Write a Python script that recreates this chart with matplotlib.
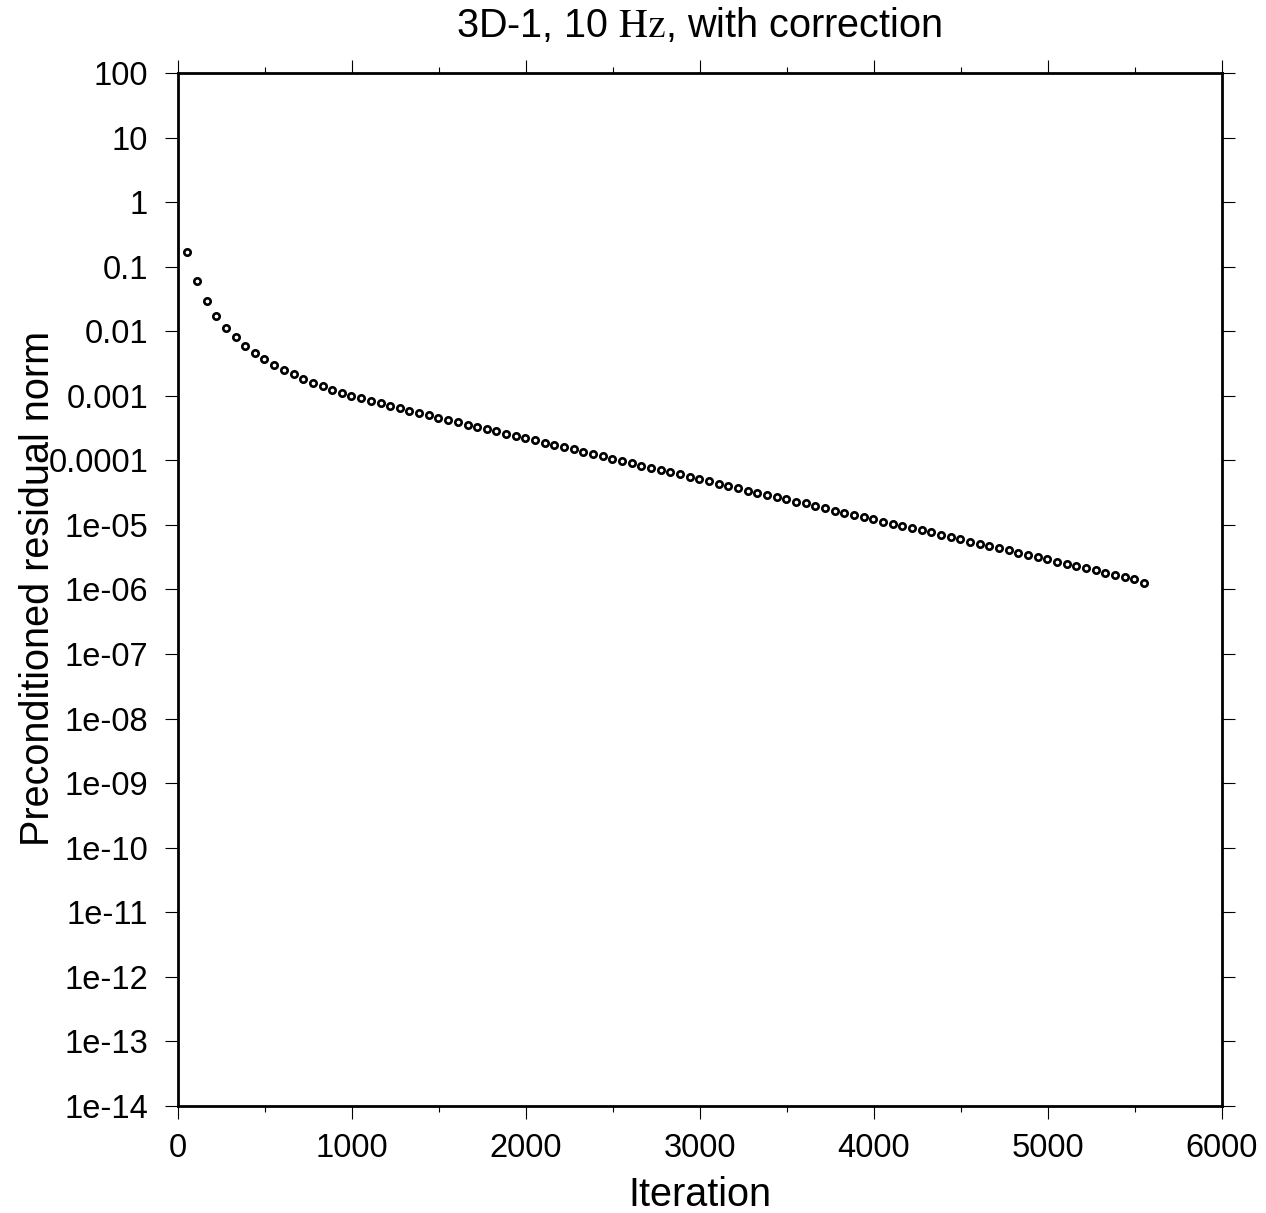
import numpy as np
import matplotlib
matplotlib.use("Agg")
import matplotlib.pyplot as plt
from matplotlib.ticker import FixedLocator, FixedFormatter, MultipleLocator

plt.rcParams['font.family'] = ['Liberation Sans', 'DejaVu Sans']
plt.rcParams['mathtext.fontset'] = 'stix'

# iteration number of each logged residual
iterations = [53, 109, 164, 220, 275, 331, 386, 442, 497, 553,
              609, 664, 720, 775, 831, 886, 942, 997, 1053, 1108,
              1164, 1219, 1275, 1330, 1386, 1441, 1497, 1553, 1608, 1664,
              1719, 1775, 1830, 1886, 1941, 1997, 2052, 2108, 2163, 2219,
              2274, 2330, 2386, 2441, 2497, 2552, 2608, 2663, 2719, 2774,
              2830, 2885, 2941, 2996, 3052, 3107, 3163, 3219, 3274, 3330,
              3385, 3441, 3496, 3552, 3607, 3663, 3718, 3774, 3829, 3885,
              3940, 3996, 4052, 4107, 4163, 4218, 4274, 4329, 4385, 4440,
              4496, 4551, 4607, 4662, 4718, 4773, 4829, 4885, 4940, 4996,
              5051, 5107, 5162, 5218, 5273, 5329, 5384, 5440, 5495, 5551]

# log10 of the preconditioned residual norm
residual_log10 = [-0.773, -1.227, -1.537, -1.764, -1.945, -2.089, -2.223, -2.337, -2.430, -2.523,
                  -2.597, -2.667, -2.733, -2.795, -2.851, -2.903, -2.951, -2.996, -3.039, -3.076,
                  -3.116, -3.155, -3.192, -3.228, -3.262, -3.303, -3.344, -3.375, -3.406, -3.447,
                  -3.483, -3.519, -3.550, -3.592, -3.623, -3.654, -3.685, -3.726, -3.762, -3.798,
                  -3.829, -3.865, -3.901, -3.937, -3.974, -4.010, -4.046, -4.082, -4.113, -4.144,
                  -4.180, -4.211, -4.253, -4.284, -4.322, -4.366, -4.397, -4.433, -4.470, -4.501,
                  -4.532, -4.572, -4.603, -4.640, -4.665, -4.707, -4.743, -4.780, -4.811, -4.846,
                  -4.882, -4.913, -4.950, -4.986, -5.017, -5.053, -5.079, -5.115, -5.156, -5.187,
                  -5.223, -5.260, -5.291, -5.327, -5.362, -5.393, -5.430, -5.466, -5.497, -5.533,
                  -5.570, -5.605, -5.632, -5.672, -5.703, -5.740, -5.776, -5.812, -5.842, -5.904]

y_ticks = [1e2, 1e1, 1e0, 1e-1, 1e-2, 1e-3, 1e-4, 1e-5, 1e-6, 1e-7,
           1e-8, 1e-9, 1e-10, 1e-11, 1e-12, 1e-13, 1e-14]
y_tick_labels = ['100', '10', '1', '0.1', '0.01', '0.001', '0.0001', '1e-05', '1e-06', '1e-07',
                 '1e-08', '1e-09', '1e-10', '1e-11', '1e-12', '1e-13', '1e-14']
x_ticks = [0, 1000, 2000, 3000, 4000, 5000, 6000]

W, H = 1266, 1213
fig = plt.figure(figsize=(W / 100, H / 100), dpi=100)
ax = fig.add_axes([178 / W, 1 - 1106 / H, (1222 - 178) / W, (1106 - 73) / H])

residual = 10 ** np.array(residual_log10)
ax.plot(iterations, residual, linestyle='none', marker='o', markersize=4.6,
        markerfacecolor='white', markeredgecolor='black', markeredgewidth=1.9,
        clip_on=False)

ax.set_yscale('log')
ax.set_xlim(0, 6000)
ax.set_ylim(1e-14, 1e2)
ax.yaxis.set_major_locator(FixedLocator(y_ticks))
ax.yaxis.set_major_formatter(FixedFormatter(y_tick_labels))
ax.yaxis.set_minor_locator(FixedLocator([]))
ax.xaxis.set_major_locator(FixedLocator(x_ticks))
ax.xaxis.set_minor_locator(MultipleLocator(500))

for s in ax.spines.values():
    s.set_linewidth(2.0)

ax.tick_params(which='major', direction='out', length=9.5, width=0.8,
               labelsize=23.5, pad=10, top=True, right=True)
ax.tick_params(which='minor', direction='out', length=4.5, width=0.8,
               top=True, right=False, left=False)
ax.tick_params(axis='y', pad=12)

fig.text(699 / W, 1 - 37 / H, r'3D-1, 10 $\mathrm{Hz}$, with correction',
         ha='center', va='baseline', fontsize=28.5)
fig.text(700 / W, 1 - 1206 / H, 'Iteration', ha='center', va='baseline', fontsize=28.5)
fig.text(38 / W, 1 - 588 / H, 'Preconditioned residual norm', rotation=90,
         ha='center', va='center', fontsize=28.5)

fig.savefig('out.png', dpi=100)
